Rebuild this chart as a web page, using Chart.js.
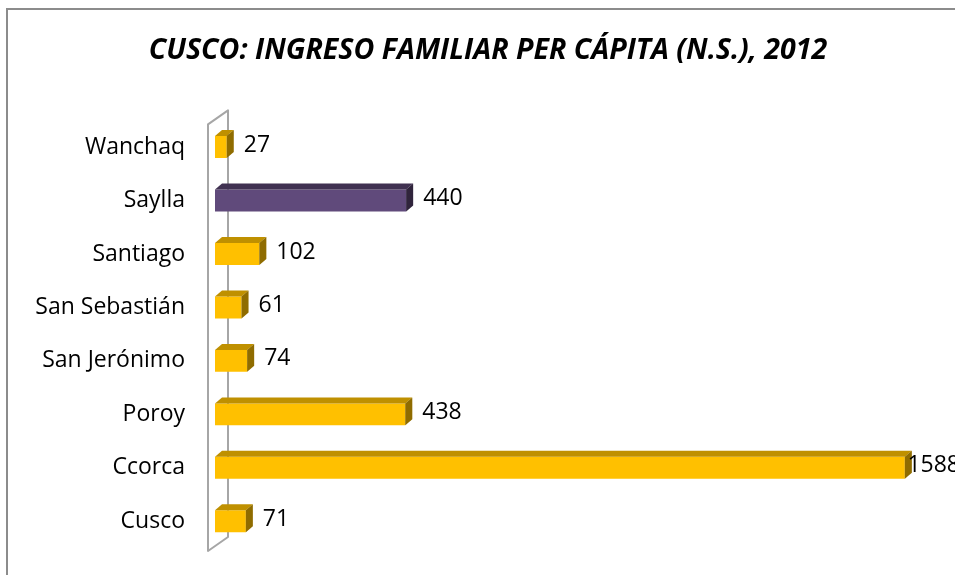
<!DOCTYPE html>
<html>
<head>
<meta charset="utf-8">
<script src="https://cdn.jsdelivr.net/npm/chart.js@4/dist/chart.umd.min.js"></script>
<style>
  html, body { margin: 0; padding: 0; background: #ffffff; }
  #wrap { width: 955px; height: 575px; position: relative; }
</style>
</head>
<body>
<div id="wrap"><canvas id="c" width="955" height="575"></canvas></div>
<script>
// ---- Data ----
const titleText = 'CUSCO: INGRESO FAMILIAR PER CÁPITA (N.S.), 2012';
const districts = ['Wanchaq', 'Saylla', 'Santiago', 'San Sebastián', 'San Jerónimo', 'Poroy', 'Ccorca', 'Cusco'];
const ingreso = [27, 440, 102, 61, 74, 438, 1588, 71];
const highlighted = ['Saylla'];

// ---- Styles ----
const FRONT_YELLOW = '#ffc000';
const SIDE_YELLOW = '#bf9000';
const FRONT_PURPLE = '#604a7b';
const SIDE_PURPLE = '#403151';
const DEPTH_X = 7, DEPTH_Y = -6;
const LABEL_FONT = '23px "Open Sans"';

const frontColors = districts.map(d => highlighted.includes(d) ? FRONT_PURPLE : FRONT_YELLOW);
const sideColors = districts.map(d => highlighted.includes(d) ? SIDE_PURPLE : SIDE_YELLOW);

const framePlugin = {
  id: 'frame',
  beforeDraw(chart) {
    const ctx = chart.ctx;
    ctx.save();
    ctx.fillStyle = '#ffffff';
    ctx.fillRect(0, 0, chart.width, chart.height);
    ctx.strokeStyle = '#8c8c8c';
    ctx.lineWidth = 2;
    ctx.beginPath();
    ctx.moveTo(7, 600);
    ctx.lineTo(7, 9);
    ctx.lineTo(1000, 9);
    ctx.stroke();
    ctx.restore();
  },
  beforeDatasetsDraw(chart) {
    const ctx = chart.ctx;
    const a = chart.chartArea;
    const x0 = chart.scales.x.getPixelForValue(0);
    ctx.save();
    ctx.strokeStyle = '#a6a6a6';
    ctx.lineWidth = 2;
    ctx.lineJoin = 'round';
    ctx.beginPath();
    ctx.moveTo(x0 - 7, a.top + 4);
    ctx.lineTo(x0 + 13, a.top - 10);
    ctx.lineTo(x0 + 13, a.bottom - 11);
    ctx.lineTo(x0 - 7, a.bottom + 3);
    ctx.closePath();
    ctx.stroke();
    ctx.restore();
  },
  afterDatasetsDraw(chart) {
    const ctx = chart.ctx;
    const meta = chart.getDatasetMeta(0);
    ctx.save();
    meta.data.forEach((bar, i) => {
      const p = bar.getProps(['x', 'y', 'base', 'height'], true);
      const top = p.y - p.height / 2;
      const bot = p.y + p.height / 2;
      // top face
      ctx.fillStyle = sideColors[i];
      ctx.beginPath();
      ctx.moveTo(p.base, top);
      ctx.lineTo(p.x, top);
      ctx.lineTo(p.x + DEPTH_X, top + DEPTH_Y);
      ctx.lineTo(p.base + DEPTH_X, top + DEPTH_Y);
      ctx.closePath();
      ctx.fill();
      // right face
      ctx.beginPath();
      ctx.moveTo(p.x, top);
      ctx.lineTo(p.x + DEPTH_X, top + DEPTH_Y);
      ctx.lineTo(p.x + DEPTH_X, bot + DEPTH_Y);
      ctx.lineTo(p.x, bot);
      ctx.closePath();
      ctx.fill();
      ctx.globalAlpha = 0.25;
      ctx.fillStyle = '#000';
      ctx.fill();
      ctx.globalAlpha = 1;
      // value label
      ctx.font = LABEL_FONT;
      ctx.fillStyle = '#000000';
      ctx.textAlign = 'left';
      ctx.textBaseline = 'middle';
      const txt = String(ingreso[i]);
      const w = ctx.measureText(txt).width;
      const lx = Math.min(p.x + DEPTH_X + 10, 955 - w + 5);
      ctx.fillText(txt, lx, p.y - 2);
    });
    ctx.restore();
  }
};

new Chart(document.getElementById('c'), {
  type: 'bar',
  data: {
    labels: districts,
    datasets: [{
      data: ingreso,
      backgroundColor: frontColors,
      borderWidth: 0,
      barPercentage: 0.41,
      categoryPercentage: 1.0
    }]
  },
  options: {
    indexAxis: 'y',
    responsive: false,
    animation: false,
    layout: { padding: { left: 26, right: 5, top: 0, bottom: 27 } },
    plugins: {
      legend: { display: false },
      tooltip: { enabled: false },
      title: {
        display: true,
        text: titleText,
        color: '#000000',
        font: { family: '"Open Sans"', size: 28.6, weight: 'bold', style: 'italic', lineHeight: 1.2 },
        padding: { top: 34, bottom: 52 }
      }
    },
    scales: {
      x: { display: false, min: 0, max: 1692 },
      y: {
        grid: { display: false, drawTicks: false },
        border: { display: false },
        ticks: { color: '#000000', font: { family: '"Open Sans"', size: 23 }, padding: 30 },
        afterFit(scale) { scale.width = 189; scale.paddingTop = 0; scale.paddingBottom = 0; }
      }
    }
  },
  plugins: [framePlugin]
});
</script>
</body>
</html>
